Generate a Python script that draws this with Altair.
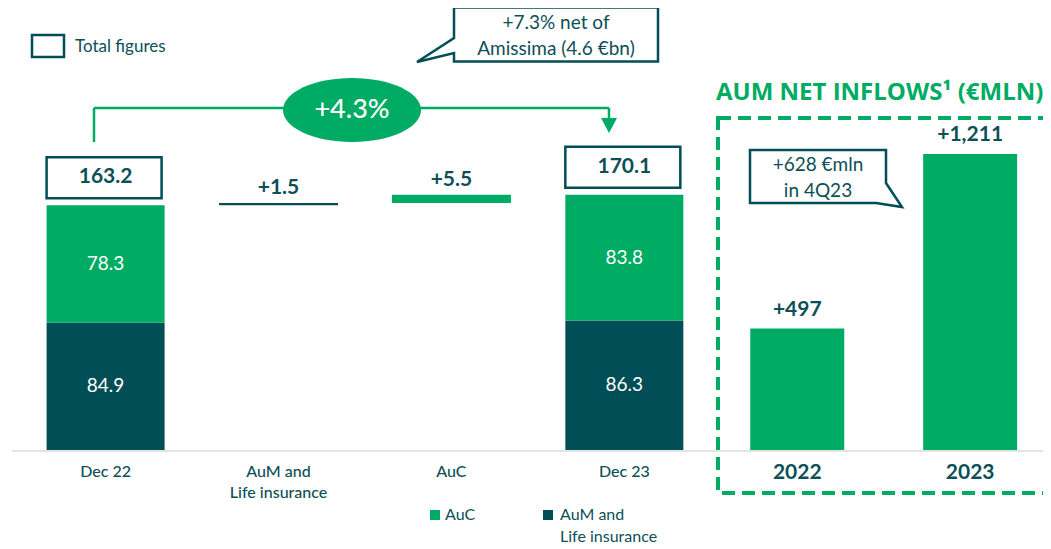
import altair as alt
import pandas as pd

# ---------------- data ----------------
stack_categories = ["Dec 22", "Dec 23"]
stack_slots = [0, 3]
aum_life = [84.9, 86.3]
auc = [78.3, 83.8]
totals = [163.2, 170.1]

bridge_slots = [1, 2]
bridge_series = ["AuM and Life insurance", "AuC"]
bridge_deltas = [1.5, 5.5]
bridge_labels = ["+1.5", "+5.5"]

x_labels = ["Dec 22", "AuM and\nLife insurance", "AuC", "Dec 23"]
x_slots = [0, 1, 2, 3]

inflow_years = ["2022", "2023"]
inflow_slots = [4, 5]
inflows = [497, 1211]
inflow_labels = ["+497", "+1,211"]

growth_label = "+4.3%"
callout_amissima = ["+7.3% net of", "Amissima (4.6 €bn)"]
callout_q4 = ["+628 €mln", "in 4Q23"]
right_title = "AUM NET INFLOWS¹ (€MLN)"
series_names = ["AuC", "AuM and Life insurance"]

# ---------------- style ----------------
GREEN = "#00AB63"
DARK = "#024E56"
TEXT = "#0D4F57"
GREY = "#E3E3E3"
FONT = "Lato"

W, H = 1035, 541
BASE = 442             # baseline (chart px)
PX_L = 1.5             # px per bn (left panel)
PX_R = 296 / 1211      # px per mln (right panel)
X0, STEP = 93.5, 174.6

XS = alt.Scale(domain=[-X0 / STEP, (W - X0) / STEP], nice=False, zero=False)
LEFT = alt.Scale(domain=[-(H - BASE) / PX_L, BASE / PX_L], nice=False, zero=False)
RIGHT = alt.Scale(domain=[-(H - BASE) / PX_R, BASE / PX_R], nice=False, zero=False)
COLOR = alt.Color("series:N", scale=alt.Scale(domain=series_names, range=[GREEN, DARK]), legend=None)


def X(field="slot"):
    return alt.X(f"{field}:Q", scale=XS, axis=None)


def YL(field):
    return alt.Y(f"{field}:Q", scale=LEFT, axis=None)


def YR(field):
    return alt.Y(f"{field}:Q", scale=RIGHT, axis=None)


# ---------------- tables ----------------
rows = []
for s, a, c in zip(stack_slots, aum_life, auc):
    rows.append(dict(slot=s, series="AuM and Life insurance", start=0.0, end=a, mid=a / 2, label=f"{a}"))
    rows.append(dict(slot=s, series="AuC", start=a, end=a + c, mid=a + c / 2, label=f"{c}"))
stack_df = pd.DataFrame(rows)

tot_df = pd.DataFrame(dict(slot=stack_slots, total=totals, label=[f"{t}" for t in totals]))

b_rows = []
level = totals[0]
for s, ser, d, lab in zip(bridge_slots, bridge_series, bridge_deltas, bridge_labels):
    b_rows.append(dict(slot=s, series=ser, start=level, end=level + d, label=lab))
    level += d
bridge_df = pd.DataFrame(b_rows)

xlab_df = pd.DataFrame(dict(slot=x_slots, label=x_labels))
inflow_df = pd.DataFrame(dict(slot=inflow_slots, year=inflow_years, value=inflows,
                              start=[0, 0], label=inflow_labels))

one = pd.DataFrame({"k": [0]})

layers = []

# baseline
layers.append(alt.Chart(one).mark_rule(color=GREY, strokeWidth=2).encode(
    x=alt.value(4), x2=alt.value(W), y=alt.value(BASE + 1)))

# dashed frame of right panel (right edge falls just outside the picture)
layers.append(alt.Chart(one).mark_rect(filled=False, stroke=GREEN, strokeWidth=4, strokeDash=[13, 7]).encode(
    x=alt.value(710), x2=alt.value(W + 6), y=alt.value(110), y2=alt.value(485)))

# stacked bars
layers.append(alt.Chart(stack_df).mark_bar(size=118).encode(
    x=X(), y=YL("start"), y2="end:Q", color=COLOR))
layers.append(alt.Chart(stack_df).mark_text(color="white", fontSize=19, font=FONT).encode(
    x=X(), y=YL("mid"), text="label:N"))

# bridge bars
layers.append(alt.Chart(bridge_df).mark_bar(size=119).encode(
    x=X(), y=YL("start"), y2="end:Q", color=COLOR))
layers.append(alt.Chart(bridge_df).mark_text(color=TEXT, fontSize=21, fontWeight="bold", font=FONT, dy=-15).encode(
    x=X(), y=YL("end"), text="label:N"))

# total boxes
layers.append(alt.Chart(tot_df).mark_rect(fill="white", stroke=DARK, strokeWidth=2.5,
                                          xOffset=-59, x2Offset=56, yOffset=-7, y2Offset=-48).encode(
    x=X(), x2="slot:Q", y=YL("total"), y2="total:Q"))
layers.append(alt.Chart(tot_df).mark_text(color=TEXT, fontSize=21, fontWeight="bold", font=FONT, dy=-28).encode(
    x=X(), y=YL("total"), text="label:N"))

# right panel bars
layers.append(alt.Chart(inflow_df).mark_bar(size=94, color=GREEN).encode(
    x=X(), y=YR("start"), y2="value:Q"))
layers.append(alt.Chart(inflow_df).mark_text(color=TEXT, fontSize=21, fontWeight="bold", font=FONT, dy=-19).encode(
    x=X(), y=YR("value"), text="label:N"))

# category labels
layers.append(alt.Chart(xlab_df).mark_text(color=TEXT, fontSize=16, fontWeight=500, font=FONT,
                                           baseline="top", lineBreak="\n", lineHeight=21).encode(
    x=X(), y=alt.value(456), text="label:N"))
layers.append(alt.Chart(inflow_df).mark_text(color=TEXT, fontSize=21, fontWeight="bold", font=FONT,
                                             baseline="middle").encode(
    x=X(), y=alt.value(465), text="year:N"))

# growth bracket
layers.append(alt.Chart(one).mark_rule(color=GREEN, strokeWidth=2.5).encode(
    x=alt.value(86), y=alt.value(100), y2=alt.value(134)))
layers.append(alt.Chart(one).mark_rule(color=GREEN, strokeWidth=2.5).encode(
    x=alt.value(86), x2=alt.value(601), y=alt.value(100)))
layers.append(alt.Chart(one).mark_rule(color=GREEN, strokeWidth=2.5).encode(
    x=alt.value(601), y=alt.value(100), y2=alt.value(112)))
layers.append(alt.Chart(one).mark_point(shape="M-8,-7.5L8,-7.5L0,7.5Z", size=4, filled=True,
                                         fill=GREEN, opacity=1, strokeWidth=0).encode(
    x=alt.value(601), y=alt.value(117.5)))
ellipse = "M-69,0A69,32 0 1,1 69,0A69,32 0 1,1 -69,0Z"
layers.append(alt.Chart(one).mark_point(shape=ellipse, size=4, filled=True, fill=GREEN,
                                         opacity=1, strokeWidth=0).encode(
    x=alt.value(344), y=alt.value(102)))
layers.append(alt.Chart(one).mark_text(color="white", fontSize=27, fontWeight=500, font=FONT).encode(
    x=alt.value(344), y=alt.value(102), text=alt.value(growth_label)))

# callout: Amissima
call1 = "M-102,-27L102,-27L102,27L-102,27L-102,18.5L-139,27.5L-102,3.5Z"
layers.append(alt.Chart(one).mark_point(shape=call1, size=4, filled=True, fill="white",
                                         stroke=DARK, strokeWidth=2.5, opacity=1).encode(
    x=alt.value(548), y=alt.value(26.5)))
layers.append(alt.Chart(one).mark_text(color=TEXT, fontSize=19, font=FONT).encode(
    x=alt.value(548), y=alt.value(15), text=alt.value(callout_amissima[0])))
layers.append(alt.Chart(one).mark_text(color=TEXT, fontSize=19, font=FONT).encode(
    x=alt.value(548), y=alt.value(41), text=alt.value(callout_amissima[1])))

# callout: 4Q23
call2 = "M-68,-26.5L68,-26.5L68,6.5L84,30.5L58,26.5L-68,26.5Z"
layers.append(alt.Chart(one).mark_point(shape=call2, size=4, filled=True, fill="white",
                                         stroke=DARK, strokeWidth=2.5, opacity=1).encode(
    x=alt.value(810), y=alt.value(168.5)))
layers.append(alt.Chart(one).mark_text(color=TEXT, fontSize=19, font=FONT).encode(
    x=alt.value(810), y=alt.value(157), text=alt.value(callout_q4[0])))
layers.append(alt.Chart(one).mark_text(color=TEXT, fontSize=19, font=FONT).encode(
    x=alt.value(810), y=alt.value(183), text=alt.value(callout_q4[1])))

# right panel title
layers.append(alt.Chart(one).mark_text(color=GREEN, fontSize=24, fontWeight="bold", font="Open Sans",
                                        align="left").encode(
    x=alt.value(708), y=alt.value(85), text=alt.value(right_title)))

# top legend: total figures
layers.append(alt.Chart(one).mark_rect(filled=False, stroke=DARK, strokeWidth=2.5).encode(
    x=alt.value(24), x2=alt.value(56), y=alt.value(27), y2=alt.value(49)))
layers.append(alt.Chart(one).mark_text(color=TEXT, fontSize=17, font=FONT, align="left").encode(
    x=alt.value(67), y=alt.value(39), text=alt.value("Total figures")))

# bottom legend
LEG_Y1, LEG_Y2 = 507, 529
layers.append(alt.Chart(one).mark_point(shape="square", size=100, filled=True, fill=GREEN,
                                         opacity=1, strokeWidth=0).encode(
    x=alt.value(427), y=alt.value(LEG_Y1)))
layers.append(alt.Chart(one).mark_text(color=TEXT, fontSize=16, font=FONT, align="left").encode(
    x=alt.value(437), y=alt.value(LEG_Y1), text=alt.value(series_names[0])))
layers.append(alt.Chart(one).mark_point(shape="square", size=100, filled=True, fill=DARK,
                                         opacity=1, strokeWidth=0).encode(
    x=alt.value(540), y=alt.value(LEG_Y1)))
layers.append(alt.Chart(one).mark_text(color=TEXT, fontSize=16, font=FONT, align="left").encode(
    x=alt.value(552), y=alt.value(LEG_Y1), text=alt.value("AuM and")))
layers.append(alt.Chart(one).mark_text(color=TEXT, fontSize=16, font=FONT, align="left").encode(
    x=alt.value(552), y=alt.value(LEG_Y2), text=alt.value("Life insurance")))

chart = alt.layer(*layers).resolve_scale(y="independent").properties(
    width=W, height=H, autosize=alt.AutoSizeParams(type="none"), padding=0
).configure(font=FONT, background="white").configure_view(strokeWidth=0, stroke=None)

chart.save("out.html", embed_options={"renderer": "svg", "actions": False})
